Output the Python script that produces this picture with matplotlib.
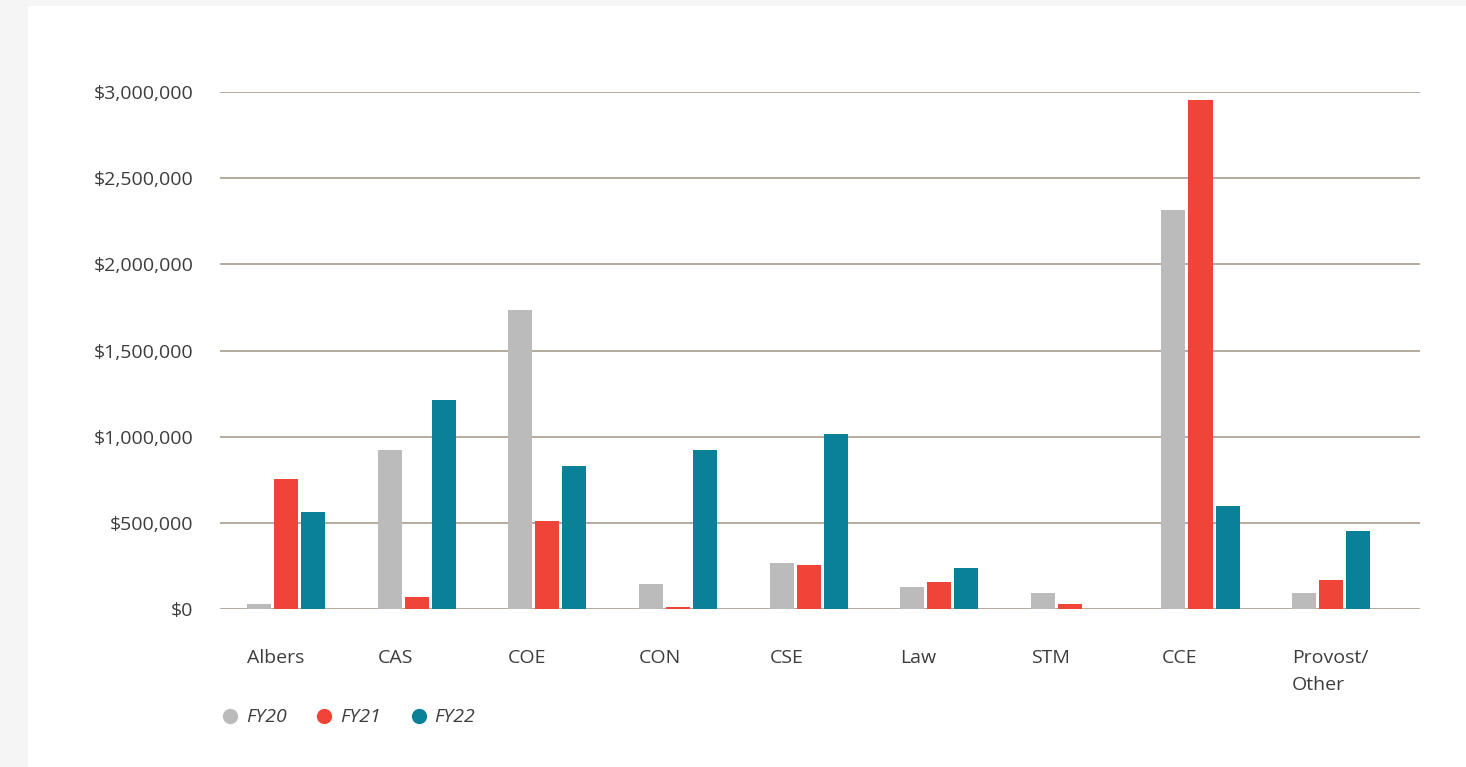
import numpy as np
import matplotlib.pyplot as plt
from matplotlib.patches import Rectangle
from matplotlib.lines import Line2D

categories = ["Albers", "CAS", "COE", "CON", "CSE", "Law", "STM", "CCE", "Provost/\nOther"]
fy20 = [29000, 922000, 1735000, 145000, 267000, 128000, 93000, 2315000, 93000]
fy21 = [754000, 70000, 511000, 12000, 255000, 157000, 29000, 2953000, 168000]
fy22 = [563000, 1213000, 830000, 922000, 1015000, 238000, 0, 598000, 453000]
series_names = ["FY20", "FY21", "FY22"]
colors = ["#bbbbbb", "#f04438", "#0a8099"]

plt.rcParams["font.family"] = ["Open Sans", "DejaVu Sans"]
txt = "#3d3d3d"

fig = plt.figure(figsize=(14.66, 7.67), dpi=100)
fig.patch.set_facecolor("#f5f5f5")
# white panel
fig.add_artist(Rectangle((28 / 1466, 0), 1 - 28 / 1466, 1 - 6 / 767,
                         transform=fig.transFigure, facecolor="white",
                         edgecolor="none", zorder=0))

left, right = 220 / 1466, 1420 / 1466
bottom, top = 1 - 609 / 767, 1 - 92 / 767
ax = fig.add_axes([left, bottom, right - left, top - bottom])
ax.set_facecolor("none")

x = np.arange(len(categories))
w = 0.184
step = 0.207
for i, (vals, c) in enumerate(zip([fy20, fy21, fy22], colors)):
    ax.bar(x + (i - 1) * step, vals, width=w, color=c, zorder=3)

ax.set_xlim(-0.505, 8.68)
ax.set_ylim(0, 3000000)
ax.set_yticks(np.arange(0, 3000001, 500000))
ax.set_yticklabels(["${:,.0f}".format(v) for v in np.arange(0, 3000001, 500000)])
ax.yaxis.grid(True, color="#a09484", linewidth=1.1, zorder=1)
ax.set_axisbelow(True)
for s in ax.spines.values():
    s.set_visible(False)
ax.tick_params(axis="both", length=0, labelcolor=txt)
ax.tick_params(axis="y", pad=19, labelsize=14)

ax.set_xticks(x - step - w / 2)
ax.set_xticklabels(categories, ha="left", va="top", linespacing=1.6)
ax.tick_params(axis="x", pad=29, labelsize=14)

handles = [Line2D([], [], marker="o", linestyle="none", markersize=11,
                  markerfacecolor=c, markeredgecolor="none") for c in colors]
leg = fig.legend(handles, series_names, loc="lower left",
                 bbox_to_anchor=(203 / 1466, 1 - 744 / 767), ncol=3, frameon=False,
                 handletextpad=0.3, columnspacing=1.45, handlelength=1.0,
                 prop={"style": "italic", "size": 14})
for t in leg.get_texts():
    t.set_color(txt)

fig.savefig("out.png", dpi=100, facecolor=fig.get_facecolor())
